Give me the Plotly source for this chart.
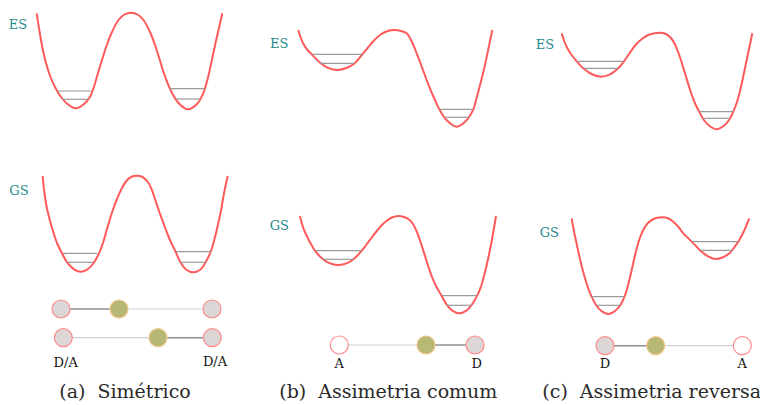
import plotly.graph_objects as go

# ---------------- data (pixel coordinates) ----------------
# Potential curves (x, y) - y measured downward from the top of the figure
a_es_x = [36.7, 39.3, 42.3, 46.0, 50.5, 55.5, 61.0, 67.5, 75.5, 83.5, 90.5, 94.5, 98.0, 102.0, 106.5, 112.0, 118.5, 124.5, 131.0, 137.5, 143.5, 150.0, 155.0, 159.5, 163.5, 167.5, 172.0, 179.0, 187.7, 197.0, 202.5, 206.0, 209.3, 212.5, 215.5, 219.0, 222.3]
a_es_y = [13.3, 30.0, 47.0, 63.0, 77.0, 88.0, 97.0, 104.0, 108.3, 104.5, 96.0, 85.0, 73.0, 60.0, 46.0, 32.0, 20.0, 14.5, 12.7, 14.5, 20.0, 32.0, 45.0, 59.0, 72.0, 83.0, 93.0, 103.5, 109.3, 104.0, 95.0, 85.0, 72.0, 57.0, 43.0, 28.0, 13.3]

a_gs_x = [42.7, 44.3, 46.5, 49.5, 53.0, 57.0, 62.0, 68.0, 74.5, 80.7, 87.0, 93.3, 99.0, 103.3, 106.7, 110.0, 113.5, 117.0, 121.0, 126.0, 131.0, 136.7, 142.5, 147.5, 151.5, 155.0, 158.3, 161.7, 165.0, 168.5, 172.0, 175.5, 180.0, 186.0, 193.3, 200.5, 206.0, 210.7, 214.0, 216.5, 219.0, 221.5, 223.5, 225.5, 227.7]
a_gs_y = [176.0, 192.0, 206.0, 219.0, 231.0, 243.0, 253.3, 263.5, 269.6, 271.7, 269.6, 263.5, 253.3, 242.0, 230.0, 219.0, 208.0, 199.0, 190.0, 181.5, 177.0, 175.7, 177.0, 181.5, 189.0, 199.0, 209.0, 218.3, 227.5, 236.5, 244.5, 251.5, 261.5, 269.5, 272.3, 269.5, 261.5, 251.7, 241.0, 231.0, 220.0, 208.0, 196.0, 186.0, 176.0]

b_es_x = [298.3, 300.5, 303.5, 307.5, 311.7, 319.5, 328.0, 337.5, 347.0, 355.0, 362.3, 368.0, 374.0, 380.0, 387.0, 395.0, 401.0, 406.7, 411.5, 416.7, 421.5, 426.7, 431.0, 435.0, 439.3, 447.0, 456.7, 466.3, 473.3, 476.5, 480.0, 483.5, 486.7, 489.5, 492.3]
b_es_y = [30.0, 37.0, 44.0, 50.0, 54.3, 62.2, 67.8, 70.0, 67.8, 63.0, 54.3, 47.5, 40.5, 35.0, 31.3, 30.0, 31.0, 33.3, 41.0, 53.3, 66.0, 80.0, 91.0, 100.0, 109.3, 120.5, 126.7, 120.5, 109.3, 98.5, 85.0, 71.5, 57.0, 43.5, 30.0]

b_gs_x = [300.0, 302.0, 304.5, 308.0, 311.5, 315.0, 320.0, 326.0, 332.0, 338.3, 344.5, 350.5, 356.5, 361.7, 366.5, 371.0, 376.0, 381.5, 387.0, 392.5, 398.3, 404.0, 409.0, 413.0, 416.5, 419.5, 422.5, 425.5, 428.5, 432.0, 436.0, 440.5, 446.0, 452.3, 459.3, 466.3, 472.6, 478.0, 481.5, 485.0, 488.5, 491.5, 494.0, 496.0]
b_gs_y = [216.0, 224.0, 231.0, 238.5, 245.0, 250.7, 256.5, 261.3, 264.0, 265.0, 264.0, 261.3, 256.5, 250.7, 244.5, 238.5, 232.0, 225.5, 220.5, 217.3, 216.0, 217.0, 219.5, 224.0, 231.0, 239.0, 248.0, 257.5, 267.0, 277.0, 286.0, 293.9, 303.6, 310.6, 313.3, 310.6, 303.6, 293.9, 285.0, 272.0, 257.0, 242.0, 228.0, 216.0]

c_es_x = [561.7, 564.0, 567.0, 571.0, 576.7, 583.3, 591.5, 601.0, 610.0, 618.3, 624.0, 630.0, 636.0, 642.5, 649.5, 659.3, 666.0, 671.0, 675.0, 678.5, 682.0, 685.5, 689.0, 692.5, 696.0, 699.3, 703.5, 709.5, 716.7, 723.5, 729.5, 733.3, 737.0, 740.0, 742.5, 745.0, 747.5, 750.0, 752.3]
c_es_y = [33.3, 40.5, 47.5, 54.0, 61.3, 68.3, 74.0, 76.7, 74.3, 68.3, 61.3, 52.5, 44.5, 38.5, 34.5, 32.7, 34.0, 38.0, 44.5, 53.0, 63.5, 75.0, 86.5, 97.0, 105.5, 111.7, 119.5, 126.0, 129.3, 126.0, 119.5, 111.7, 102.0, 91.0, 80.0, 68.0, 56.0, 44.5, 33.3]

c_gs_x = [571.7, 573.0, 574.5, 576.5, 578.5, 581.0, 583.5, 586.5, 589.0, 591.7, 596.0, 601.5, 608.3, 615.0, 620.5, 624.5, 627.0, 629.5, 631.7, 634.0, 636.7, 639.5, 643.0, 647.5, 653.5, 661.7, 668.0, 673.3, 678.5, 683.3, 687.5, 691.7, 696.0, 700.0, 708.0, 715.5, 723.0, 729.5, 734.5, 738.3, 741.5, 744.5, 747.0, 749.3]
c_gs_y = [218.3, 226.0, 234.0, 243.0, 252.5, 263.3, 273.0, 283.0, 290.5, 296.7, 305.0, 311.0, 314.0, 311.0, 305.0, 296.7, 289.0, 279.5, 270.0, 259.5, 248.5, 239.0, 230.5, 223.5, 219.0, 217.3, 218.2, 221.7, 227.0, 233.3, 237.5, 241.7, 246.0, 250.3, 256.4, 259.0, 257.2, 253.3, 247.0, 241.7, 236.0, 230.0, 224.0, 218.3]

# Vibrational levels: y, x-start, x-end
lvl_y  = [91.0, 99.3, 88.7, 99.0, 253.3, 262.3, 251.7, 262.3,
          54.3, 63.3, 109.3, 117.3, 250.7, 259.3, 295.7, 305.3,
          61.3, 68.3, 111.7, 118.3, 296.7, 305.3, 241.7, 250.3]
lvl_x0 = [57.3, 62.0, 170.0, 175.7, 63.3, 66.7, 175.7, 180.0,
          311.7, 320.0, 439.3, 444.3, 315.0, 322.7, 442.0, 446.5,
          576.7, 583.3, 699.3, 702.7, 591.7, 596.7, 691.7, 700.0]
lvl_x1 = [92.3, 88.3, 204.7, 200.0, 97.3, 93.3, 210.7, 205.7,
          362.3, 354.3, 473.3, 469.3, 361.7, 354.0, 476.7, 472.0,
          624.0, 618.3, 733.3, 730.0, 624.3, 620.0, 738.3, 732.3]

# State labels
state_text = ["ES", "GS", "ES", "GS", "ES", "GS"]
state_x = [18.0, 19.0, 279.3, 279.3, 545.0, 549.3]
state_y = [26.0, 191.7, 44.3, 226.7, 46.0, 233.3]

# Molecule diagrams: atoms (x, y, kind)
atom_x = [61.0, 119.0, 212.0, 63.3, 158.0, 212.3, 339.3, 426.0, 475.0, 605.0, 655.7, 742.3]
atom_y = [309.0, 309.0, 309.0, 337.7, 337.7, 337.7, 345.0, 345.0, 345.0, 345.7, 345.7, 345.7]
atom_kind = ["D", "H", "D", "D", "H", "D", "A", "H", "D", "D", "H", "A"]

# bonds: (x0, x1, y, strong?)
bond_x0 = [61.0, 119.0, 63.3, 158.0, 339.3, 426.0, 605.0, 655.7]
bond_x1 = [119.0, 212.0, 158.0, 212.3, 426.0, 475.0, 655.7, 742.3]
bond_y = [309.0, 309.0, 337.7, 337.7, 345.0, 345.0, 345.7, 345.7]
bond_strong = [True, False, False, True, False, True, True, False]

# Atom labels
lab_text = ["D/A", "D/A", "A", "D", "D", "A"]
lab_x = [65.7, 215.0, 339.3, 476.7, 605.0, 742.3]
lab_y = [363.5, 363.0, 365.0, 365.0, 365.0, 365.0]

# Captions
cap_text = ["(a)  Simétrico", "(b)  Assimetria comum", "(c)  Assimetria reversa"]
cap_x = [125.0, 388.3, 651.7]
cap_y = [393.0, 393.0, 393.0]

# ---------------- figure ----------------
RED = "#ff5a5a"
fig = go.Figure()

for cx, cy in [(a_es_x, a_es_y), (a_gs_x, a_gs_y), (b_es_x, b_es_y),
               (b_gs_x, b_gs_y), (c_es_x, c_es_y), (c_gs_x, c_gs_y)]:
    fig.add_trace(go.Scatter(x=cx, y=cy, mode="lines",
                             line=dict(color=RED, width=2, shape="spline", smoothing=1.0),
                             hoverinfo="skip", showlegend=False))

lx, ly = [], []
for y, x0, x1 in zip(lvl_y, lvl_x0, lvl_x1):
    lx += [x0, x1, None]
    ly += [y, y, None]
fig.add_trace(go.Scatter(x=lx, y=ly, mode="lines", line=dict(color="#9a9a9a", width=1.2),
                         hoverinfo="skip", showlegend=False))

for x0, x1, y, s in zip(bond_x0, bond_x1, bond_y, bond_strong):
    fig.add_trace(go.Scatter(x=[x0, x1], y=[y, y], mode="lines",
                             line=dict(color="#8f8f8f" if s else "#d2d2d2", width=1.6 if s else 1.2),
                             hoverinfo="skip", showlegend=False))

fill_map = {"D": "#ddd6d6", "A": "#ffffff", "H": "#b7b874"}
edge_map = {"D": "#ff8a8a", "A": "#ff8a8a", "H": "#f2c48a"}
fig.add_trace(go.Scatter(x=atom_x, y=atom_y, mode="markers",
                         marker=dict(size=18, color=[fill_map[k] for k in atom_kind],
                                     line=dict(color=[edge_map[k] for k in atom_kind], width=1.2)),
                         hoverinfo="skip", showlegend=False))

fig.add_trace(go.Scatter(x=state_x, y=state_y, mode="text", text=state_text,
                         textfont=dict(family="DejaVu Serif", size=13, color="#1f8c8c"),
                         hoverinfo="skip", showlegend=False))
fig.add_trace(go.Scatter(x=lab_x, y=lab_y, mode="text", text=lab_text,
                         textfont=dict(family="DejaVu Serif", size=13, color="#111111"),
                         hoverinfo="skip", showlegend=False))
fig.add_trace(go.Scatter(x=cap_x, y=cap_y, mode="text", text=cap_text,
                         textfont=dict(family="DejaVu Serif", size=19, color="#2a2a2a"),
                         hoverinfo="skip", showlegend=False))

fig.update_layout(
    width=760, height=405,
    margin=dict(l=0, r=0, t=0, b=0),
    paper_bgcolor="white", plot_bgcolor="white",
    xaxis=dict(range=[0, 760], visible=False, fixedrange=True),
    yaxis=dict(range=[405, 0], visible=False, fixedrange=True),
)

fig.write_html("out.html", config={"displayModeBar": False},
               post_script="document.body.style.margin='0';document.body.style.overflow='hidden';")
